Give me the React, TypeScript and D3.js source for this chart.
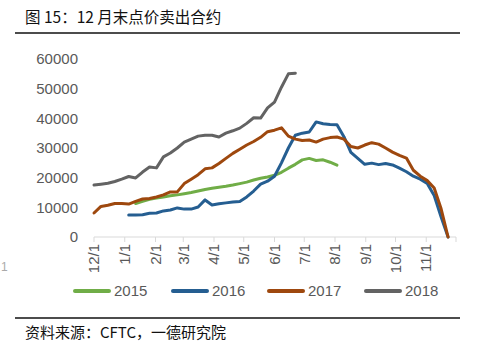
import React from "react";
import * as d3 from "d3";

const monthLabels = ["12/1", "1/1", "2/1", "3/1", "4/1", "5/1", "6/1", "7/1", "8/1", "9/1", "10/1", "11/1"];
const yTicks = [0, 10000, 20000, 30000, 40000, 50000, 60000];
const seriesNames = ["2015", "2016", "2017", "2018"];
const seriesColors = ["#70AD47", "#255E91", "#9E480E", "#636363"];

// weekly observations, starting week index (weeks after 12/1)
const startWeek2015 = 6;
const values2015 = [11300, 12000, 12700, 13100, 13500, 13900, 14200, 14600, 15000, 15500, 16000, 16400, 16800, 17100, 17500, 18000, 18500, 19200, 19800, 20200, 20800, 21800, 23200, 24500, 26000, 26500, 25800, 26000, 25200, 24200];
const startWeek2016 = 5;
const values2016 = [7400, 7400, 7500, 8000, 8100, 8800, 9100, 9800, 9400, 9400, 10100, 12500, 10800, 11200, 11500, 11800, 12000, 13500, 15500, 17800, 18800, 20500, 25000, 30000, 34300, 35000, 35400, 38800, 38200, 37900, 37800, 33800, 28500, 26500, 24500, 24900, 24400, 24800, 24300, 23200, 22000, 20500, 19500, 18000, 14000, 6700, 0];
const startWeek2017 = 0;
const values2017 = [8100, 10300, 10700, 11300, 11300, 11100, 12000, 12800, 13000, 13500, 14200, 15200, 15200, 18000, 19500, 21000, 23000, 23300, 24800, 26500, 28200, 29600, 31000, 32200, 33600, 35500, 36000, 36800, 34000, 33000, 32500, 32700, 32000, 33000, 33500, 33700, 33000, 30500, 30000, 31000, 31800, 31300, 30000, 28600, 27500, 26600, 22500, 20500, 19000, 16500, 9500, 0];
const startWeek2018 = 0;
const values2018 = [17500, 17800, 18100, 18700, 19500, 20400, 19900, 21900, 23600, 23300, 27000, 28300, 30000, 32000, 33000, 34000, 34300, 34300, 33700, 35000, 35800, 36700, 38300, 40200, 40100, 43500, 45500, 50500, 55000, 55200];

const seriesStarts = [startWeek2015, startWeek2016, startWeek2017, startWeek2018];
const seriesValues = [values2015, values2016, values2017, values2018];

const W = 500;
const H = 345;
const startDate = new Date(2014, 11, 1);
const endDate = new Date(2015, 11, 1);

export default function App() {
  const x = d3.scaleTime().domain([startDate, endDate]).range([94, 456]);
  const y = d3.scaleLinear().domain([0, 60000]).range([237, 59]);
  const monthTicks = d3.timeMonth.range(startDate, endDate);
  const allTicks = [...monthTicks, endDate];

  const line = d3
    .line<[Date, number]>()
    .x((d) => x(d[0]))
    .y((d) => y(d[1]))
    .curve(d3.curveLinear);

  const seriesData = seriesValues.map((vals, i) =>
    vals.map((v, k) => [d3.timeDay.offset(startDate, (seriesStarts[i] + k) * 7), v] as [Date, number])
  );

  const axisFont = "'Liberation Sans', Arial, sans-serif";
  const cjkFont = "'Noto Sans CJK SC', sans-serif";
  const legendX = [73, 171, 267, 364];

  return (
    <svg width={W} height={H} style={{ position: "absolute", left: 0, top: 0, background: "#fff" }}>
      <rect x={0} y={0} width={W} height={H} fill="#ffffff" />
      <text x={25} y={23} fontFamily={cjkFont} fontSize={15.5} fill="#111">
        图 15：12 月末点价卖出合约
      </text>
      <line x1={15} x2={460} y1={33} y2={33} stroke="#111" strokeWidth={1.5} />

      {yTicks.map((t) => (
        <text key={t} x={78} y={y(t)} dy="0.35em" textAnchor="end" fontFamily={axisFont} fontSize={15} fill="#595959">
          {t}
        </text>
      ))}

      <line x1={x(startDate)} x2={x(endDate)} y1={y(0)} y2={y(0)} stroke="#D9D9D9" strokeWidth={1} />
      {allTicks.map((d, i) => (
        <line key={i} x1={x(d)} x2={x(d)} y1={y(0)} y2={y(0) + 5} stroke="#D9D9D9" strokeWidth={1} />
      ))}
      {monthTicks.map((d, i) => (
        <text
          key={i}
          transform={`translate(${x(d)},244) rotate(-90)`}
          textAnchor="end"
          dy="0.35em"
          fontFamily={axisFont}
          fontSize={15}
          fill="#595959"
        >
          {monthLabels[i]}
        </text>
      ))}

      {seriesData.map((data, i) => (
        <path
          key={i}
          d={line(data) || ""}
          fill="none"
          stroke={seriesColors[i]}
          strokeWidth={3}
          strokeLinejoin="round"
          strokeLinecap="round"
        />
      ))}

      {seriesNames.map((n, i) => (
        <g key={n}>
          <line x1={legendX[i] + 2} x2={legendX[i] + 36} y1={291} y2={291} stroke={seriesColors[i]} strokeWidth={4} strokeLinecap="round" />
          <text x={legendX[i] + 41} y={291} dy="0.35em" fontFamily={axisFont} fontSize={15} fill="#595959">
            {n}
          </text>
        </g>
      ))}

      <text x={1} y={271} fontFamily={axisFont} fontSize={12} fill="#aaa">1</text>

      <line x1={15} x2={460} y1={318} y2={318} stroke="#111" strokeWidth={1.5} />
      <text x={25} y={338} fontFamily={cjkFont} fontSize={15} fill="#111">
        资料来源：CFTC，一德研究院
      </text>
    </svg>
  );
}
